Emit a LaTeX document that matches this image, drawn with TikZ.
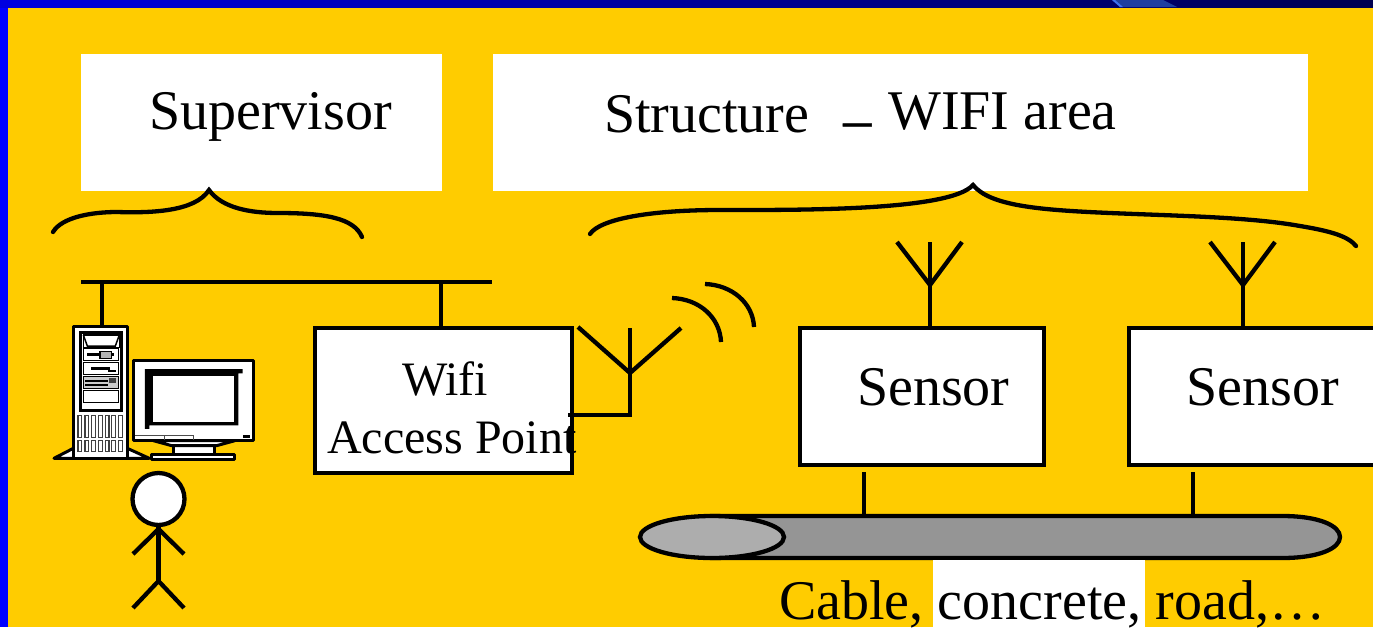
\documentclass[tikz,border=0pt]{standalone}
\usepackage{fontspec}
\usetikzlibrary{shapes.geometric}
\setmainfont{Liberation Serif}
\newfontfamily\dashfont[FakeBold=0.8]{Liberation Serif}
\definecolor{bgyellow}{HTML}{FFCC00}
\definecolor{bodygray}{HTML}{959595}
\definecolor{endgray}{HTML}{ADADAD}
\definecolor{streak}{HTML}{1F3F9F}
\definecolor{streakedge}{HTML}{3F6FEF}
\definecolor{barleft}{HTML}{0000E0}
\definecolor{barright}{HTML}{000050}
\tikzset{
 wire/.style={line width=4.3pt,black},
 whitebox/.style={draw=black,line width=4.5pt,fill=white,inner sep=0pt},
 plainbox/.style={fill=white,inner sep=0pt},
 big/.style={anchor=base west,inner sep=0pt,text depth=0pt,font=\fontsize{56pt}{60pt}\selectfont},
 mid/.style={anchor=base west,inner sep=0pt,font=\fontsize{48pt}{52pt}\selectfont},
 pcpart/.style={draw=black,line width=3pt,fill=white,line join=round},
 vent/.style={draw=black!75,line width=1.1pt,fill=white},
 pcline/.style={draw=black,line width=1.5pt},
}
\begin{document}
\begin{tikzpicture}[x=1pt,y=-1pt]
\useasboundingbox (0,0) rectangle (1373,627);
\fill[bgyellow] (0,0) rectangle (1373,627);
\fill[blue] (0,0) rectangle (8,627);
\shade[left color=barleft,right color=barright] (0,0) rectangle (1373,7);
\fill[streak] (1112,0) -- (1120,7) -- (1177,7) -- (1163,0) -- cycle;
\fill[streakedge] (1112,0) -- (1120,7) -- (1123,7) -- (1115,0) -- cycle;
% title boxes
\node[plainbox,minimum width=361pt,minimum height=137pt] (sup) at (261.5,122.5) {};
\node[plainbox,minimum width=815pt,minimum height=137pt] (str) at (900.5,122.5) {};
\node[big] (tsup) at (149,129) {Supervisor};
\node[big] (tstr) at (604,132) {Structure};
\node[big,font=\fontsize{56pt}{60pt}\dashfont] (tdash) at (843,138) {–};
\node[big] (twifi) at (888,129) {WIFI area};
% braces
\draw[wire,line cap=round] (53,232) .. controls (62,217) and (92,212) .. (117,212) .. controls (150,213) and (195,212) .. (209,190) .. controls (222,208) and (250,213) .. (278,213) .. controls (325,213) and (354,218) .. (362,237);
\draw[wire,line cap=round] (590,234) .. controls (600,219) and (650,210) .. (720,210) .. controls (800,210) and (950,211) .. (973,185) .. controls (990,206) and (1040,210) .. (1110,213) .. controls (1180,216) and (1250,217) .. (1300,226) .. controls (1330,231) and (1348,236) .. (1356,246);
% bus
\coordinate (busl) at (81,282);
\coordinate (busr) at (492,282);
\coordinate (tap1) at (102,282);
\coordinate (tap2) at (441,282);
\draw[wire] (busl) -- (busr);
\node[whitebox,minimum width=257pt,minimum height=145pt] (ap) at (443.5,400.5) {};
\node[mid] (tw) at (402,395) {Wifi};
\node[mid] (ta) at (327,453) {Access Point};
\coordinate (pctop) at (102,327);
\draw[wire] (tap1) -- (pctop);
\draw[wire] (tap2) -- (tap2 |- ap.north);
% computer
\begin{scope}[shift={(40,310)},x=.3333pt,y=-.3333pt]
 \draw[pcpart] (100,415) -- (42,445) -- (328,445) -- (262,415) -- cycle;
 \draw[pcpart] (100,50) rectangle (262,445);
 \draw[black,line width=3pt,fill=white] (122,68) rectangle (246,302);
 \draw[pcline] (130,75) rectangle (238,112);
 \draw[pcline] (130,75) -- (142,108) -- (226,108) -- (238,75);
 \draw[pcline] (130,116) rectangle (236,151);
 \fill[black] (142,130) rectangle (222,137);
 \draw[pcline,fill=gray!60] (180,125) rectangle (214,146);
 \draw[pcline] (130,157) rectangle (236,193);
 \fill[black] (152,172) rectangle (210,180);
 \fill[black] (205,180) rectangle (228,187);
 \draw[pcline,fill=gray!40] (130,199) rectangle (236,235);
 \fill[black] (136,210) rectangle (204,215);
 \fill[black] (136,222) rectangle (204,227);
 \fill[black!75] (208,204) rectangle (228,220);
 \draw[pcline] (130,241) rectangle (236,277);
 \foreach \vx in {114,135,155,176,196,215,236}{
  \draw[vent] (\vx,316) rectangle ++(11,66);
  \draw[vent] (\vx,391) rectangle ++(11,33);
 }
 % monitor
 \draw[pcpart] (400,405) rectangle (525,435);
 \draw[pcpart] (335,435) rectangle (585,449);
 \draw[pcpart] (340,392) -- (395,407) -- (530,407) -- (585,392) -- cycle;
 \draw[pcpart] (280,150) rectangle (642,392);
 \fill[black] (315,177) -- (608,177) -- (608,190) -- (595,190) -- (595,346) -- (328,346) -- (328,357) -- (315,357) -- cycle;
 \fill[white] (338,198) rectangle (583,335);
 \draw[black!70,line width=1.2pt] (284,376) -- (460,376) -- (460,390);
 \draw[black!70,line width=1.2pt] (373,376) -- (373,390);
 \fill[black] (610,376) rectangle (630,384);
\end{scope}
% person
\node[draw=black,line width=4.3pt,fill=white,circle,inner sep=0pt,minimum size=52pt] (head) at (158.5,499) {};
\coordinate (hip) at (158.5,581);
\coordinate (neck) at (158.5,529);
\coordinate (handl) at (133,554);
\coordinate (handr) at (184,554);
\coordinate (footl) at (133,608);
\coordinate (footr) at (184,608);
\draw[wire] (head.south) -- (hip);
\draw[wire] (handl) -- (neck) -- (handr);
\draw[wire] (footl) -- (hip) -- (footr);
% wifi antenna
\coordinate (a0l) at (578,327);
\coordinate (a0m) at (630,328);
\coordinate (a0r) at (681,328);
\coordinate (a0c) at (630,373);
\coordinate (a0b) at (630,415);
\coordinate (a0f) at (568,415);
\draw[wire] (a0l) -- (a0c) -- (a0r);
\draw[wire] (a0m) -- (a0b) -- (a0f);
\draw[wire] (672,298) .. controls (700,299) and (720,318) .. (721,342);
\draw[wire] (705,284) .. controls (732,285) and (753,303) .. (754,327);
% sensors
\node[whitebox,minimum width=244pt,minimum height=137pt] (s1) at (922,396.5) {};
\node[whitebox,minimum width=260pt,minimum height=137pt] (s2) at (1259,396.5) {};
\node[big] (ts1) at (857,405) {Sensor};
\node[big] (ts2) at (1186,405) {Sensor};
\coordinate (a1l) at (897,242);
\coordinate (a1m) at (930,242);
\coordinate (a1r) at (962,242);
\coordinate (a1c) at (930,285);
\coordinate (a2l) at (1210,242);
\coordinate (a2m) at (1243,242);
\coordinate (a2r) at (1275,242);
\coordinate (a2c) at (1243,285);
\draw[wire] (a1l) -- (a1c) -- (a1r);
\draw[wire] (a1m) -- (a1m |- s1.north);
\draw[wire] (a2l) -- (a2c) -- (a2r);
\draw[wire] (a2m) -- (a2m |- s2.north);
% cable
\draw[wire,fill=bodygray] (712,516) -- (1282,516) .. controls (1320,516) and (1340,526) .. (1340,537) .. controls (1340,548) and (1320,558) .. (1282,558) -- (712,558) -- cycle;
\node[draw=black,line width=4.3pt,fill=endgray,ellipse,minimum width=144pt,minimum height=42pt,inner sep=0pt] (cend) at (712,537) {};
\coordinate (c1) at (864,472);
\coordinate (c2) at (1193,472);
\coordinate (c1e) at (864,516);
\coordinate (c2e) at (1193,516);
\draw[wire] (c1) -- (c1e);
\draw[wire] (c2) -- (c2e);
% caption
\fill[white] (933,560) rectangle (1145,627);
\node[big] (cap) at (779,619) {Cable, concrete, road,…};
\end{tikzpicture}
\end{document}
